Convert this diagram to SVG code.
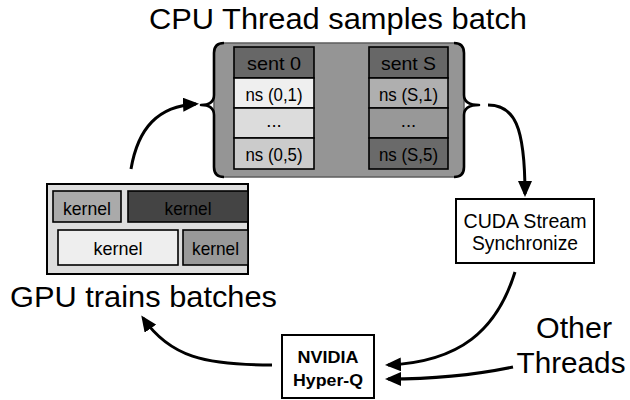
<svg xmlns="http://www.w3.org/2000/svg" width="630" height="400" viewBox="0 0 630 400">
<defs>
<style>
text{font-family:"Liberation Sans",Arial,Helvetica,sans-serif;fill:#000;}
.big{font-size:30px;}
.cell{font-size:18.5px;}
.k{font-size:19px;}
.box{font-size:19.5px;}
.hq{font-size:16.5px;font-weight:bold;}
.c{stroke:#000;stroke-width:1.6;}
.conn{fill:none;stroke:#000;stroke-width:3;}
.brace{fill:none;stroke:#000;stroke-width:2.6;stroke-linejoin:round;}
</style>
<marker id="ah" markerUnits="userSpaceOnUse" markerWidth="16" markerHeight="14" refX="13" refY="7" orient="auto">
<path d="M0,0 L16,7 L0,14 z" fill="#000"/>
</marker>
</defs>
<rect x="0" y="0" width="630" height="400" fill="#fff"/>

<text class="big" x="338" y="29" text-anchor="middle" textLength="378" lengthAdjust="spacingAndGlyphs">CPU Thread samples batch</text>

<g id="cpu-batch">
<rect x="214" y="43" width="250" height="134" rx="10" fill="#959595" stroke="#5e5e5e" stroke-width="1.5"/>
<path class="brace" d="M224,43 Q214,43 214,53 L214,95 Q214,105 201,105 Q214,105 214,115 L214,167 Q214,177 224,177"/>
<path class="brace" d="M454,43 Q464,43 464,53 L464,95 Q464,105 479,105 Q464,105 464,115 L464,167 Q464,177 454,177"/>
<g id="sent0">
<rect class="c" x="234" y="47" width="80" height="31" fill="#676767"/>
<rect class="c" x="234" y="78" width="80" height="30" fill="#efefef"/>
<rect class="c" x="234" y="108" width="80" height="30" fill="#dcdcdc"/>
<rect class="c" x="234" y="138" width="80" height="31" fill="#cbcbcb"/>
<text class="cell" x="274" y="70" text-anchor="middle" textLength="54" lengthAdjust="spacingAndGlyphs">sent 0</text>
<text class="cell" x="274" y="101" text-anchor="middle" textLength="57" lengthAdjust="spacingAndGlyphs">ns (0,1)</text>
<text class="cell" x="274" y="127" text-anchor="middle">...</text>
<text class="cell" x="274" y="161" text-anchor="middle" textLength="57" lengthAdjust="spacingAndGlyphs">ns (0,5)</text>
</g>
<g id="sentS">
<rect class="c" x="369" y="47" width="79" height="31" fill="#676767"/>
<rect class="c" x="369" y="78" width="79" height="30" fill="#afafaf"/>
<rect class="c" x="369" y="108" width="79" height="30" fill="#989898"/>
<rect class="c" x="369" y="138" width="79" height="31" fill="#6a6a6a"/>
<text class="cell" x="408.5" y="70" text-anchor="middle" textLength="55" lengthAdjust="spacingAndGlyphs">sent S</text>
<text class="cell" x="408.5" y="101" text-anchor="middle" textLength="59" lengthAdjust="spacingAndGlyphs">ns (S,1)</text>
<text class="cell" x="408.5" y="127" text-anchor="middle">...</text>
<text class="cell" x="408.5" y="161" text-anchor="middle" textLength="59" lengthAdjust="spacingAndGlyphs">ns (S,5)</text>
</g>
</g>

<g id="gpu">
<rect x="47" y="184" width="201" height="90" fill="#dddddd" stroke="#000" stroke-width="2"/>
<rect class="c" x="53" y="191" width="68" height="31" fill="#aaaaaa"/>
<rect class="c" x="128" y="191" width="120" height="31" fill="#444444"/>
<rect class="c" x="58" y="230" width="120" height="35" fill="#eeeeee"/>
<rect class="c" x="183" y="230" width="65" height="35" fill="#999999"/>
<text class="k" x="87" y="215" text-anchor="middle" textLength="48" lengthAdjust="spacingAndGlyphs">kernel</text>
<text class="k" x="188" y="215" text-anchor="middle" textLength="47" lengthAdjust="spacingAndGlyphs">kernel</text>
<text class="k" x="118" y="255" text-anchor="middle" textLength="49" lengthAdjust="spacingAndGlyphs">kernel</text>
<text class="k" x="215.5" y="255" text-anchor="middle" textLength="47" lengthAdjust="spacingAndGlyphs">kernel</text>
</g>
<text class="big" x="10" y="307" textLength="267" lengthAdjust="spacingAndGlyphs">GPU trains batches</text>

<g id="cuda">
<rect x="456" y="199" width="138" height="64" fill="#fff" stroke="#000" stroke-width="2"/>
<text class="box" x="525" y="228" text-anchor="middle" textLength="123" lengthAdjust="spacingAndGlyphs">CUDA Stream</text>
<text class="box" x="525" y="250" text-anchor="middle" textLength="106" lengthAdjust="spacingAndGlyphs">Synchronize</text>
</g>

<g id="hyperq">
<rect x="282" y="335" width="92" height="63" fill="#fff" stroke="#000" stroke-width="2"/>
<text class="hq" x="328" y="363" text-anchor="middle" textLength="61" lengthAdjust="spacingAndGlyphs">NVIDIA</text>
<text class="hq" x="328" y="386" text-anchor="middle" textLength="70" lengthAdjust="spacingAndGlyphs">Hyper-Q</text>
</g>

<g id="other">
<text class="big" x="574" y="338" text-anchor="middle" textLength="76" lengthAdjust="spacingAndGlyphs">Other</text>
<text class="big" x="571" y="373" text-anchor="middle" textLength="109" lengthAdjust="spacingAndGlyphs">Threads</text>
</g>

<g id="connectors">
<path class="conn" marker-end="url(#ah)" d="M131,169 C138,128 158,106 196,104"/>
<path class="conn" marker-end="url(#ah)" d="M488,105 C514,105 525,125 525,194"/>
<path class="conn" marker-end="url(#ah)" d="M515,272 C497,330 460,362 388,365"/>
<path class="conn" marker-end="url(#ah)" d="M513,367 C470,376 430,379 388,379"/>
<path class="conn" marker-end="url(#ah)" d="M272,365 C205,365 170,357 143,318"/>
</g>
</svg>
